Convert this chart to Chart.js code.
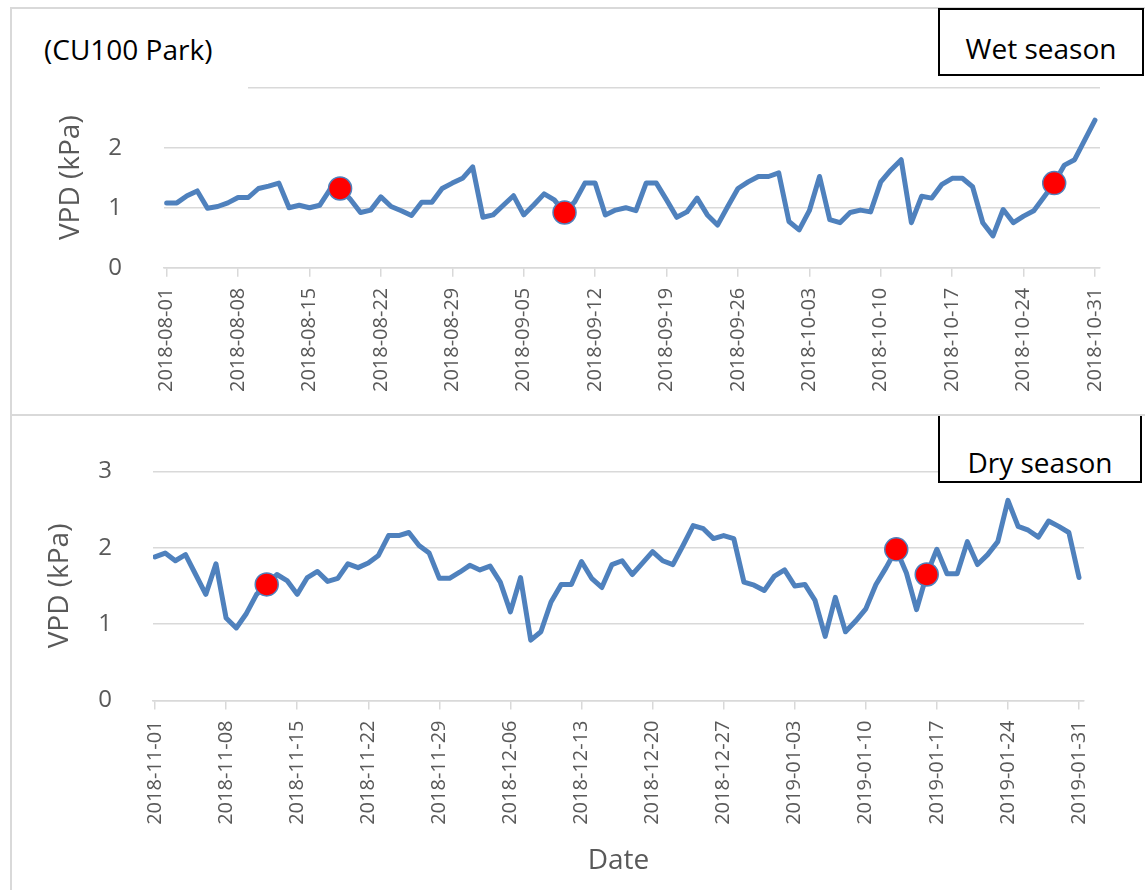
<!DOCTYPE html>
<html>
<head>
<meta charset="utf-8">
<script src="https://cdn.jsdelivr.net/npm/chart.js@4.4.1/dist/chart.umd.min.js"></script>
<style>
  body { margin: 0; background: #fff; font-family: 'Open Sans', sans-serif; }
  .panel { position: absolute; left: 10px; width: 1150px; border: 2px solid #d9d9d9; box-sizing: border-box; }
  canvas { position: absolute; }
  .note { position: absolute; background: #fff; color: #000; font-size: 28px; }
  .box { position: absolute; background: #fff; border: 2px solid #000; box-sizing: border-box; color: #000; font-size: 28px; text-align: center; }
</style>
</head>
<body>
<div class="panel" style="top:7px;height:409px"></div>
<div class="panel" style="top:414px;height:490px"></div>
<canvas id="wetChart" width="1135" height="406" style="left:10px;top:8px"></canvas>
<canvas id="dryChart" width="1135" height="474" style="left:10px;top:416px"></canvas>
<div class="note" style="left:24px;top:20px;width:224px;height:78px;padding:10px 0 0 20px;box-sizing:border-box">(CU100 Park)</div>
<div class="box" style="left:938px;top:8px;width:206px;height:68px;line-height:76px">Wet season</div>
<div class="box" style="left:938px;top:416px;width:204px;height:67px;line-height:92px;border-top:none">Dry season</div>
<script>
// wet season 2018-08-01 .. 2018-10-31, one value per day (kPa)
const wetVPD = [1.08, 1.08, 1.2, 1.28, 0.99, 1.02, 1.08, 1.17, 1.17, 1.32, 1.36, 1.41, 1.0, 1.04, 1.0, 1.04,
  1.3, 1.32, 1.14, 0.92, 0.96, 1.18, 1.02, 0.95, 0.87, 1.09, 1.09, 1.32, 1.41, 1.49, 1.68,
  0.84, 0.88, 1.04, 1.2, 0.88, 1.05, 1.23, 1.13, 0.92, 1.1, 1.41, 1.41, 0.88, 0.96, 1.0, 0.95,
  1.41, 1.41, 1.13, 0.84, 0.93, 1.16, 0.88, 0.71, 1.02, 1.32, 1.43, 1.52, 1.52, 1.58, 0.77,
  0.63, 0.95, 1.52, 0.8, 0.75, 0.92, 0.96, 0.93, 1.43, 1.63, 1.8, 0.75, 1.19, 1.16, 1.39,
  1.49, 1.49, 1.35, 0.75, 0.53, 0.97, 0.75, 0.86, 0.95, 1.18, 1.41, 1.71, 1.8, 2.13, 2.46];
// dry season 2018-11-01 .. 2019-01-31
const dryVPD = [1.88, 1.93, 1.83, 1.91, 1.65, 1.39, 1.79, 1.08, 0.95, 1.14, 1.39, 1.52, 1.65, 1.57, 1.39,
  1.61, 1.69, 1.56, 1.6, 1.79, 1.74, 1.8, 1.9, 2.16, 2.16, 2.2, 2.03, 1.93, 1.6, 1.6,
  1.68, 1.77, 1.71, 1.76, 1.55, 1.16, 1.61, 0.79, 0.9, 1.29, 1.52, 1.52, 1.82, 1.6, 1.48,
  1.78, 1.83, 1.65, 1.8, 1.95, 1.83, 1.78, 2.03, 2.29, 2.25, 2.12, 2.16, 2.12, 1.55, 1.51,
  1.44, 1.63, 1.71, 1.5, 1.52, 1.31, 0.84, 1.35, 0.9, 1.04, 1.2, 1.52, 1.74, 1.98, 1.67,
  1.19, 1.65, 1.98, 1.66, 1.66, 2.08, 1.78, 1.91, 2.08, 2.62, 2.28, 2.23, 2.14, 2.35, 2.28,
  2.2, 1.61];
// highlighted days (index from season start)
const wetMarks = [17, 39, 87];
const dryMarks = [11, 73, 76];
const wetTicks = ['2018-08-01', '2018-08-08', '2018-08-15', '2018-08-22', '2018-08-29', '2018-09-05', '2018-09-12',
  '2018-09-19', '2018-09-26', '2018-10-03', '2018-10-10', '2018-10-17', '2018-10-24', '2018-10-31'];
const dryTicks = ['2018-11-01', '2018-11-08', '2018-11-15', '2018-11-22', '2018-11-29', '2018-12-06', '2018-12-13',
  '2018-12-20', '2018-12-27', '2019-01-03', '2019-01-10', '2019-01-17', '2019-01-24', '2019-01-31'];
const yTicks = [0, 1, 2, 3];

Chart.defaults.font.family = "'Open Sans', sans-serif";
Chart.defaults.color = '#595959';

function makeChart(id, values, marks, tickLabels, o){
  const ctx = document.getElementById(id).getContext('2d');
  return new Chart(ctx, {
    type: 'line',
    data: {
      datasets: [{
        data: marks.map(d => ({x: d, y: values[d]})),
        showLine: false,
        pointRadius: 11.5,
        pointBackgroundColor: '#ff0000',
        pointBorderColor: '#4f81bd',
        pointBorderWidth: 1.5,
        order: 0
      }, {
        data: values.map((v, i) => ({x: i, y: v})),
        borderColor: '#4f81bd',
        borderWidth: 5,
        borderCapStyle: 'round',
        borderJoinStyle: 'round',
        pointRadius: 0,
        tension: 0,
        order: 1
      }]
    },
    options: {
      responsive: false,
      animation: false,
      layout: { padding: { left: 0, top: o.top, right: o.right, bottom: 0 } },
      plugins: { legend: { display: false }, tooltip: { enabled: false } },
      scales: {
        x: {
          type: 'linear',
          min: o.xmin, max: o.xmax,
          afterBuildTicks: s => { s.ticks = tickLabels.map((t, i) => ({value: i * 7})); },
          afterFit: s => { s.height = o.xh; },
          grid: { drawOnChartArea: false, color: '#d9d9d9', lineWidth: 1.5, tickLength: 9 },
          border: { color: '#d9d9d9', width: 1.5 },
          ticks: {
            autoSkip: false, minRotation: 90, maxRotation: 90, padding: 11,
            font: { size: 20 },
            callback: v => tickLabels[Math.round(v / 7)]
          },
          title: o.xtitle ? { display: true, text: 'Date', font: { size: 28 }, padding: { top: 0, bottom: 12 } } : { display: false }
        },
        y: {
          min: 0, max: 3,
          afterBuildTicks: s => { s.ticks = yTicks.map(v => ({value: v})); },
          afterFit: s => { s.width = o.yw; },
          grid: { color: '#d9d9d9', lineWidth: 1.5, drawTicks: false },
          border: { display: false },
          ticks: { padding: o.ypad, font: { size: 24 } },
          title: { display: true, text: 'VPD (kPa)', font: { size: 28 }, padding: { top: o.tpad, bottom: 0 } }
        }
      }
    }
  });
}

makeChart('wetChart', wetVPD, wetMarks, wetTicks,
  { top: 79.7, right: 45, xmin: -0.26, xmax: 91.49, xh: 146.3, yw: 154, ypad: 42, tpad: 44, xtitle: false });
makeChart('dryChart', dryVPD, dryMarks, dryTicks,
  { top: 50.7, right: 61, xmin: -0.2, xmax: 91.49, xh: 189.5, yw: 143, ypad: 41, tpad: 33, xtitle: true });
</script>
</body>
</html>
